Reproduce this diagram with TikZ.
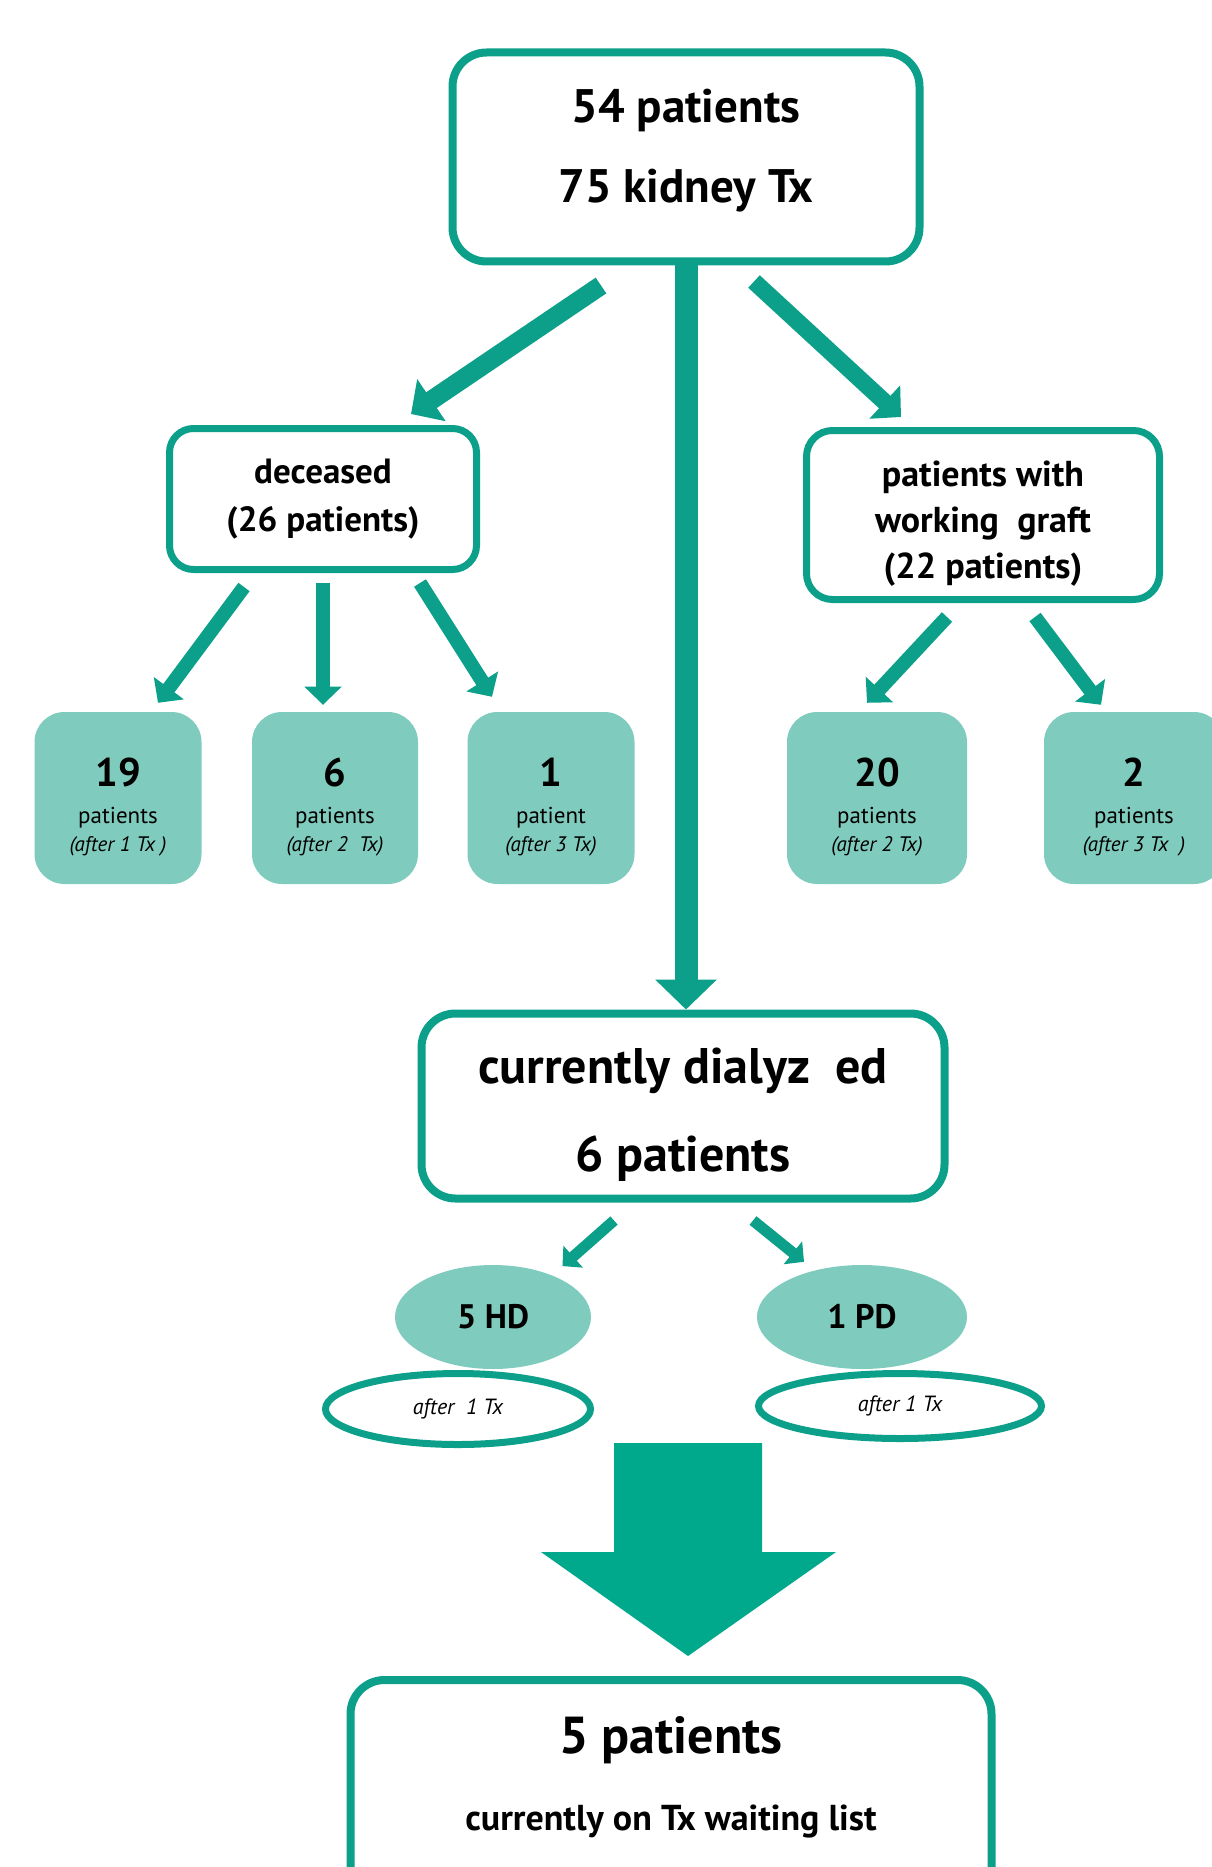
\documentclass[tikz,border=0pt]{standalone}
\usepackage{fontspec}
\setmainfont{PT Sans}
\usetikzlibrary{arrows.meta,shapes.geometric}

\definecolor{txgreen}{RGB}{12,160,138}
\definecolor{txlight}{RGB}{127,204,190}
\definecolor{txarrow}{RGB}{0,168,140}

\newcommand{\fsz}[2]{\fontsize{#1}{#2}\selectfont}
\newcommand{\cnt}[3]{{\bfseries\fsz{40}{44}#1}\\[19pt]{\fsz{23}{30}#2}\\[8pt]{\itshape\fsz{21}{30}#3}}

\tikzset{
  box/.style={draw=txgreen,line width=8pt,rounded corners=34pt,fill=white,
    align=center,font=\bfseries},
  count/.style={fill=txlight,rounded corners=30pt,minimum height=172pt,
    align=center,inner sep=0pt,text height=112pt},
  blob/.style={ellipse,fill=txlight,inner sep=0pt,font=\bfseries\fsz{34}{40}},
  ring/.style={ellipse,draw=txgreen,line width=7pt,fill=white,inner sep=0pt,
    font=\itshape\fsz{22}{26}},
  flow/.style={draw=txgreen,line width=#1,-{Triangle[width=0pt 2.6,length=0pt 1.3]}},
}

\begin{document}
\begin{tikzpicture}[x=1pt,y=-1pt]
\useasboundingbox (0,0) rectangle (1211,1867);

\node[box,minimum width=467pt,minimum height=209pt,text depth=22pt,font=\bfseries\fsz{47}{80}]
  (top) at (686,157) {54 patients\\75 kidney Tx};

\node[box,rounded corners=24pt,line width=7pt,minimum width=307pt,minimum height=141pt,
  font=\bfseries\fsz{35}{48}] (dec) at (323,499) {deceased\\(26 patients)};
\node[box,rounded corners=26pt,line width=7pt,minimum width=353pt,minimum height=169pt,
  text height=134pt,font=\bfseries\fsz{36}{46}] (graft) at (983,515)
  {patients with\\working\ \ graft\\(22 patients)};

\node[count,minimum width=167pt] (c19) at (118,798) {\cnt{19}{patients}{(after 1 Tx )}};
\node[count,minimum width=166pt] (c6) at (335,798) {\cnt{6}{patients}{(after 2\ \ Tx)}};
\node[count,minimum width=167pt] (c1) at (551,798) {\cnt{1}{patient}{(after 3 Tx)}};
\node[count,minimum width=180pt] (c20) at (877,798) {\cnt{20}{patients}{(after 2 Tx)}};
\node[count,minimum width=180pt] (c2) at (1134,798) {\cnt{2}{patients}{(after 3 Tx\ \ )}};

\node[box,minimum width=523pt,minimum height=185pt,text height=140pt,font=\bfseries\fsz{50}{88}]
  (dia) at (683,1106) {currently dialyz\ \ ed\\6 patients};

\node[blob,minimum width=196pt,minimum height=104pt] (hd) at (493,1317) {5 HD};
\node[blob,minimum width=210pt,minimum height=104pt] (pd) at (862,1317) {1 PD};
\node[ring,minimum width=265pt,minimum height=71pt] (hdtx) at (458,1409) {after\ \ 1 Tx};
\node[ring,minimum width=283pt,minimum height=65pt] (pdtx) at (900,1406) {after 1 Tx};

\node[box,minimum width=641pt,minimum height=252pt,text depth=65pt,font=\bfseries\fsz{52}{77}]
  (wait) at (671,1806) {5 patients\\{\fsz{36}{77}currently on Tx waiting list}};

% arrows
\draw[flow=23pt] (top.south) -- (top.south |- dia.north);
\draw[flow=19pt] ([xshift=-85pt,yshift=-20pt]top.south) -- ([xshift=88pt,yshift=11pt]dec.north);
\draw[flow=17pt] ([xshift=68pt,yshift=-16pt]top.south) -- ([xshift=-82pt,yshift=10pt]graft.north);

\draw[flow=14pt] ([xshift=-79pt,yshift=-14pt]dec.south) -- ([xshift=40pt,yshift=9pt]c19.north);
\draw[flow=14pt] ([yshift=-10pt]dec.south) -- ([yshift=7pt]dec.south |- c6.north);
\draw[flow=14pt] ([xshift=97pt,yshift=-10pt]dec.south) -- ([xshift=-59pt,yshift=15pt]c1.north);

\draw[flow=14pt] ([xshift=-36pt,yshift=-14pt]graft.south) -- ([xshift=-10pt,yshift=9pt]c20.north);
\draw[flow=14pt] ([xshift=52pt,yshift=-14pt]graft.south) -- ([xshift=-33pt,yshift=7pt]c2.north);

\draw[flow=11pt] ([xshift=-69pt,yshift=-18pt]dia.south) -- ([yshift=14pt]hd.north east);
\draw[flow=11pt] ([xshift=70pt,yshift=-18pt]dia.south) -- ([xshift=-58pt,yshift=3pt]pd.north);

\fill[txarrow] ([xshift=17pt,yshift=20pt]wait.north) -- ++(-147,-104) -- ++(73,0) -- ++(0,-109)
  -- ++(148,0) -- ++(0,109) -- ++(74,0) -- cycle;
\end{tikzpicture}
\end{document}
